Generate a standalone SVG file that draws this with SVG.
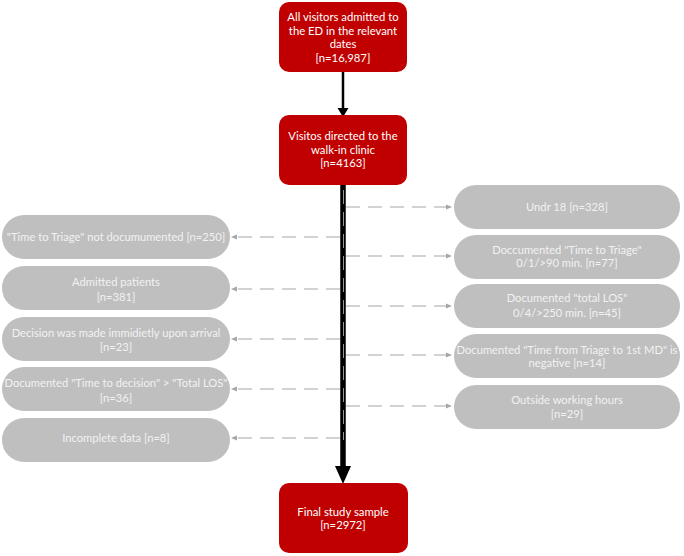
<svg xmlns="http://www.w3.org/2000/svg" width="684" height="556" viewBox="0 0 684 556">
<defs>
<style>
.red rect{fill:#C00000;stroke:none}
.grey rect{fill:#BFBFBF;stroke:none}
.red text{fill:#FFFFFF;font-family:Lato,"Open Sans",sans-serif;font-size:11.3px;text-anchor:middle}
.grey text{fill:#F2F2F2;font-family:Lato,"Open Sans",sans-serif;font-size:11.2px;text-anchor:middle}
.dash{stroke:#A6A6A6;stroke-width:1.2;stroke-dasharray:14 8;fill:none}
</style>
<marker id="ga" viewBox="0 0 10 10" refX="10" refY="5" markerWidth="6" markerHeight="6" markerUnits="userSpaceOnUse" orient="auto">
<path d="M0,1 L10,5 L0,9 z" fill="#A6A6A6"/>
</marker>
</defs>
<rect width="684" height="556" fill="#FFFFFF"/>

<g id="connectors">
<line x1="343" y1="72" x2="343" y2="109" stroke="#000" stroke-width="2.5"/>
<polygon points="337.5,108 348.5,108 343,117" fill="#000"/>
<line x1="343" y1="185" x2="343" y2="468" stroke="#000" stroke-width="5.5"/>
<polygon points="335,466 351,466 343,484" fill="#000"/>
<line x1="343.5" y1="190" x2="343.5" y2="440" stroke="#BFBFBF" stroke-width="0.8" stroke-dasharray="14 8"/>
<line class="dash" x1="346" y1="207" x2="452" y2="207" marker-end="url(#ga)"/>
<line class="dash" x1="346" y1="256" x2="452" y2="256" marker-end="url(#ga)"/>
<line class="dash" x1="346" y1="306" x2="452" y2="306" marker-end="url(#ga)"/>
<line class="dash" x1="346" y1="355" x2="452" y2="355" marker-end="url(#ga)"/>
<line class="dash" x1="346" y1="406" x2="452" y2="406" marker-end="url(#ga)"/>
<line class="dash" x1="340" y1="237" x2="231" y2="237" marker-end="url(#ga)"/>
<line class="dash" x1="340" y1="289" x2="231" y2="289" marker-end="url(#ga)"/>
<line class="dash" x1="340" y1="339" x2="231" y2="339" marker-end="url(#ga)"/>
<line class="dash" x1="340" y1="389" x2="231" y2="389" marker-end="url(#ga)"/>
<line class="dash" x1="340" y1="438" x2="231" y2="438" marker-end="url(#ga)"/>
</g>

<g id="n-all" class="red">
<rect x="279" y="2" width="128" height="70" rx="10"/>
<text x="343" y="21">All visitors admitted to</text>
<text x="343" y="35">the ED in the relevant</text>
<text x="343" y="48">dates</text>
<text x="343" y="62">[n=16,987]</text>
</g>
<g id="n-walkin" class="red">
<rect x="279" y="115" width="128" height="70" rx="10"/>
<text x="343" y="140">Visitos directed to the</text>
<text x="343" y="154">walk-in clinic</text>
<text x="343" y="167">[n=4163]</text>
</g>
<g id="n-final" class="red">
<rect x="279" y="483" width="129" height="70" rx="10"/>
<text x="343" y="516">Final study sample</text>
<text x="343" y="529">[n=2972]</text>
</g>

<g id="l1" class="grey">
<rect x="2" y="215" width="228" height="44" rx="22"/>
<text x="116" y="241">"Time to Triage" not documumented [n=250]</text>
</g>
<g id="l2" class="grey">
<rect x="2" y="266" width="228" height="44" rx="22"/>
<text x="116" y="286">Admitted patients</text>
<text x="116" y="301">[n=381]</text>
</g>
<g id="l3" class="grey">
<rect x="2" y="317" width="228" height="44" rx="22"/>
<text x="116" y="337">Decision was made immidietly upon arrival</text>
<text x="116" y="351">[n=23]</text>
</g>
<g id="l4" class="grey">
<rect x="2" y="367" width="228" height="44" rx="22"/>
<text x="116" y="387">Documented "Time to decision" &gt; "Total LOS"</text>
<text x="116" y="402">[n=36]</text>
</g>
<g id="l5" class="grey">
<rect x="2" y="418" width="228" height="44" rx="22"/>
<text x="116" y="442">Incomplete data [n=8]</text>
</g>

<g id="r1" class="grey">
<rect x="454" y="185" width="226" height="44" rx="22"/>
<text x="567" y="211">Undr 18 [n=328]</text>
</g>
<g id="r2" class="grey">
<rect x="454" y="235" width="226" height="44" rx="22"/>
<text x="567" y="254">Doccumented "Time to Triage"</text>
<text x="567" y="267">0/1/&gt;90 min. [n=77]</text>
</g>
<g id="r3" class="grey">
<rect x="454" y="284" width="226" height="44" rx="22"/>
<text x="567" y="302">Documented "total LOS"</text>
<text x="567" y="317">0/4/&gt;250 min. [n=45]</text>
</g>
<g id="r4" class="grey">
<rect x="454" y="334" width="226" height="44" rx="22"/>
<text x="567" y="354">Documented "Time from Triage to 1st MD" is</text>
<text x="567" y="367">negative [n=14]</text>
</g>
<g id="r5" class="grey">
<rect x="454" y="385" width="226" height="44" rx="22"/>
<text x="567" y="404">Outside working hours</text>
<text x="567" y="418">[n=29]</text>
</g>
</svg>
